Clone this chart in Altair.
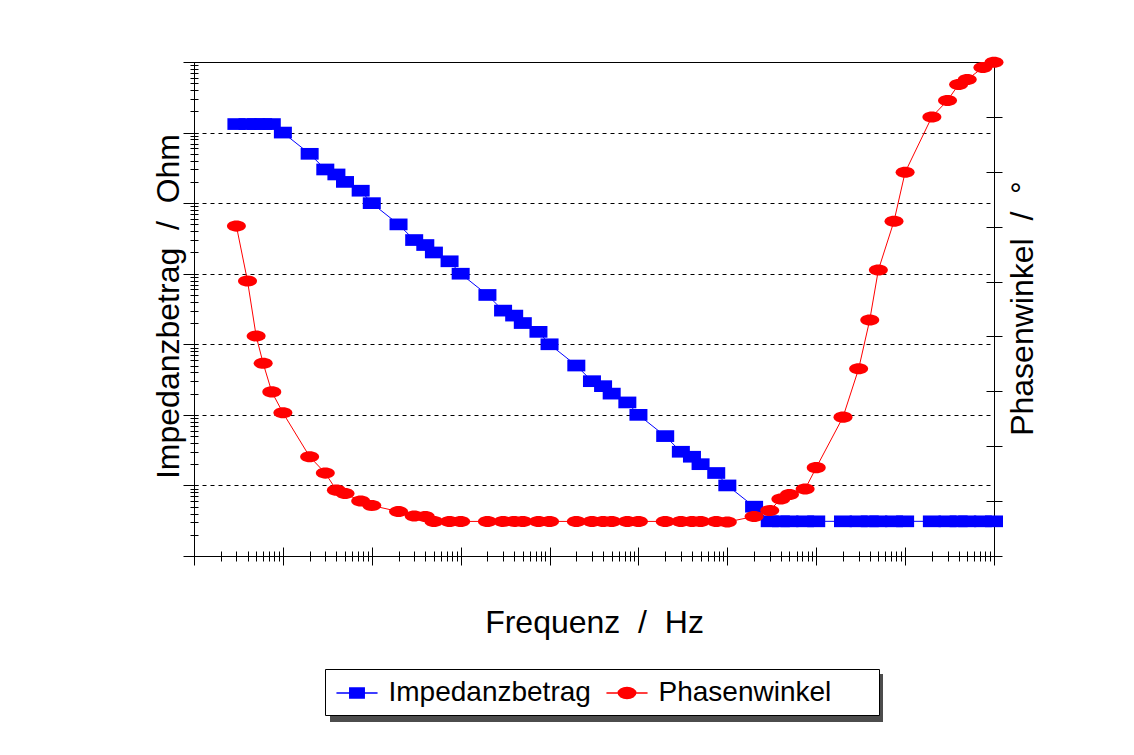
import altair as alt
import pandas as pd

FONT = "Liberation Sans"

# ---------------- data ----------------
freq = [0.003, 0.004, 0.005, 0.006, 0.0075,
        0.01, 0.02, 0.03, 0.04, 0.05, 0.075,
        0.1, 0.2, 0.3, 0.4, 0.5, 0.75,
        1, 2, 3, 4, 5, 7.5,
        10, 20, 30, 40, 50, 75,
        100, 200, 300, 400, 500, 750,
        1000, 2000, 3000, 4000, 5000, 7500,
        10000, 20000, 30000, 40000, 50000, 75000,
        100000, 200000, 300000, 400000, 500000, 750000,
        1000000]

impedance = [132000, 132000, 132000, 132000, 132000,
             100000, 50000, 30000, 25500, 20000, 15000,
             10000, 5000, 3000, 2550, 2000, 1500,
             1000, 500, 300, 255, 200, 150,
             100, 50, 30, 25.5, 20, 15,
             10, 5, 3, 2.55, 2, 1.5,
             1.0, 0.5, 0.31, 0.31, 0.31, 0.31,
             0.31, 0.31, 0.31, 0.31, 0.31, 0.31,
             0.31, 0.31, 0.31, 0.31, 0.31, 0.31,
             0.31]

phase = [-29.9, -39.9, -49.9, -54.9, -60.1,
         -63.9, -71.9, -74.9, -78.0, -78.6, -80.0,
         -80.8, -81.9, -82.7, -82.8, -83.7, -83.7,
         -83.7, -83.7, -83.7, -83.7, -83.7, -83.7,
         -83.7, -83.7, -83.7, -83.7, -83.7, -83.7,
         -83.7, -83.7, -83.7, -83.7, -83.7, -83.7,
         -83.8, -82.8, -81.7, -79.6, -78.8, -77.8,
         -73.9, -64.7, -55.9, -47.0, -37.9, -29.0,
         -20.1, -10.0, -7.0, -4.1, -3.2, -1.0,
         -0.05]

series_names = ["Impedanzbetrag", "Phasenwinkel"]
series_colors = ["#0000FF", "#FF0000"]

# tick positions (no tick labels are shown)
x_major = [0.001, 0.01, 0.1, 1, 10, 100, 1000, 10000, 100000, 1000000]
x_minor = [m * d for d in x_major[:-1] for m in range(2, 10)]
y_major = [0.1, 1, 10, 100, 1000, 10000, 100000, 1000000]
y_grid = [1, 10, 100, 1000, 10000, 100000]
y_minor = [m * d for d in y_major[:-1] for m in range(2, 10)]
phase_ticks = [-90, -80, -70, -60, -50, -40, -30, -20, -10, 0]

df = pd.DataFrame({"f": freq, "z": impedance, "p": phase})
legend_df = pd.DataFrame({"series": series_names})
shadow_df = pd.DataFrame({"v": [0, 1]})

# marker shapes
SQUARE = "M-1,-0.65L1,-0.65L1,0.65L-1,0.65Z"
ELLIPSE = ("M-1,0C-1,-0.32 -0.55,-0.58 0,-0.58C0.55,-0.58 1,-0.32 1,0"
           "C1,0.32 0.55,0.58 0,0.58C-0.55,0.58 -1,0.32 -1,0Z")
LEG_SQUARE = "M-1.37,0L1.37,0M-0.48,-0.33L0.48,-0.33L0.48,0.33L-0.48,0.33Z"
LEG_ELLIPSE = ("M-1.37,0L1.37,0M-0.58,0C-0.58,-0.2 -0.32,-0.36 0,-0.36"
               "C0.32,-0.36 0.58,-0.2 0.58,0C0.58,0.2 0.32,0.36 0,0.36"
               "C-0.32,0.36 -0.58,0.2 -0.58,0Z")

x_scale = alt.Scale(type="log", domain=[0.001, 1000000], nice=False)
yz_scale = alt.Scale(type="log", domain=[0.1, 1000000], nice=False)
yp_scale = alt.Scale(domain=[-90, 0], nice=False, zero=False)

title_style = dict(titleFont=FONT, titleFontSize=32, titleFontWeight="normal",
                   titleColor="black", titleAlign="center", titleBaseline="alphabetic")
tick_style = dict(labels=False, domain=False, grid=False, tickColor="black", tickWidth=1)

NB = "\u00a0"
ZW = "\u200b"

# ---------------- impedance (left axis) ----------------
blue_line = alt.Chart(df).mark_line(color="#0000FF", strokeWidth=1).encode(
    x=alt.X("f:Q", scale=x_scale,
            axis=alt.Axis(values=x_major, orient="bottom", offset=-9, tickSize=18,
                          title="Frequenz" + NB + " /" + NB + " Hz",
                          titleX=400, titleY=85, titleAngle=0,
                          **tick_style, **title_style)),
    y=alt.Y("z:Q", scale=yz_scale,
            axis=alt.Axis(values=y_grid, orient="left", ticks=False, labels=False,
                          domain=False, grid=True, gridColor="black", gridDash=[4, 4],
                          gridWidth=1, gridOpacity=1,
                          title="Impedanzbetrag" + NB + " /" + NB + " Ohm",
                          titleX=-16, titleY=244, titleAngle=270, **title_style)),
)

blue_pts = alt.Chart(df).mark_point(shape=SQUARE, size=324, filled=True,
                                     color="#0000FF", opacity=1, strokeWidth=0).encode(
    x=alt.X("f:Q", scale=x_scale,
            axis=alt.Axis(values=x_minor, orient="bottom", offset=-5, tickSize=10,
                          title=None, **tick_style)),
    y=alt.Y("z:Q", scale=yz_scale,
            axis=alt.Axis(values=y_major, orient="left", offset=-4, tickSize=15,
                          title=None, **tick_style)),
)

blue_minor = alt.Chart(df).mark_point(opacity=0).encode(
    x=alt.X("f:Q", scale=x_scale, axis=None),
    y=alt.Y("z:Q", scale=yz_scale,
            axis=alt.Axis(values=y_minor, orient="left", offset=-4, tickSize=8,
                          title=None, **tick_style)),
)

# ---------------- phase (right axis) ----------------
red_line = alt.Chart(df).mark_line(color="#FF0000", strokeWidth=1).encode(
    x=alt.X("f:Q", scale=x_scale, axis=None),
    y=alt.Y("p:Q", scale=yp_scale,
            axis=alt.Axis(values=phase_ticks, orient="right", offset=-8, tickSize=16,
                          title="Phasenwinkel" + NB + " /" + NB + " °",
                          titleX=46, titleY=246, titleAngle=270,
                          **tick_style, **title_style)),
)

red_pts = alt.Chart(df).mark_point(shape=ELLIPSE, size=361, filled=True,
                                    color="#FF0000", opacity=1, strokeWidth=0).encode(
    x=alt.X("f:Q", scale=x_scale, axis=None),
    y=alt.Y("p:Q", scale=yp_scale, axis=None),
)

# ---------------- legend (box + drop shadow) ----------------
label_expr = ("datum.label == 'Phasenwinkel' ? datum.label + '"
              + NB * 5 + ZW + "' : datum.label")

main_legend = alt.Legend(orient="none", legendX=131, legendY=607,
                         direction="horizontal", columns=2, title=None,
                         padding=8, cornerRadius=0, strokeColor="black", fillColor="white",
                         symbolSize=900, symbolStrokeWidth=1.5, symbolOpacity=1,
                         symbolOffset=8, labelOffset=15.5, columnPadding=12,
                         labelFont=FONT, labelFontSize=28, labelLimit=600,
                         labelColor="black", labelExpr=label_expr, zindex=2)

legend_layer = alt.Chart(legend_df).mark_point(size=900, strokeWidth=1.5, opacity=1).encode(
    fill=alt.Fill("series:N", scale=alt.Scale(domain=series_names, range=series_colors),
                  legend=main_legend),
    stroke=alt.Stroke("series:N", scale=alt.Scale(domain=series_names, range=series_colors),
                      legend=main_legend),
    shape=alt.Shape("series:N", scale=alt.Scale(domain=series_names,
                                                range=[LEG_SQUARE, LEG_ELLIPSE]),
                    legend=main_legend),
).transform_filter("false")

shadow_legend = alt.Legend(type="gradient", orient="none", legendX=136, legendY=612,
                           direction="horizontal", title=None, padding=0,
                           gradientLength=553, gradientThickness=48,
                           gradientStrokeWidth=0, values=[], zindex=1)

shadow_layer = alt.Chart(shadow_df).mark_point().encode(
    color=alt.Color("v:Q", scale=alt.Scale(domain=[0, 1], range=["black", "black"]),
                    legend=shadow_legend),
).transform_filter("false")

chart = alt.layer(
    blue_line, blue_pts, blue_minor, red_line, red_pts, legend_layer, shadow_layer
).resolve_scale(
    y="independent"
).resolve_axis(
    x="independent", y="independent"
).properties(
    width=800, height=494,
    padding={"left": 186, "top": 54, "right": 130, "bottom": 185},
    autosize=alt.AutoSizeParams(type="none"),
    background="white",
).configure(
    font=FONT
).configure_view(
    stroke="black", strokeWidth=1
)

chart.save("out.html", embed_options={"renderer": "svg", "actions": False})
